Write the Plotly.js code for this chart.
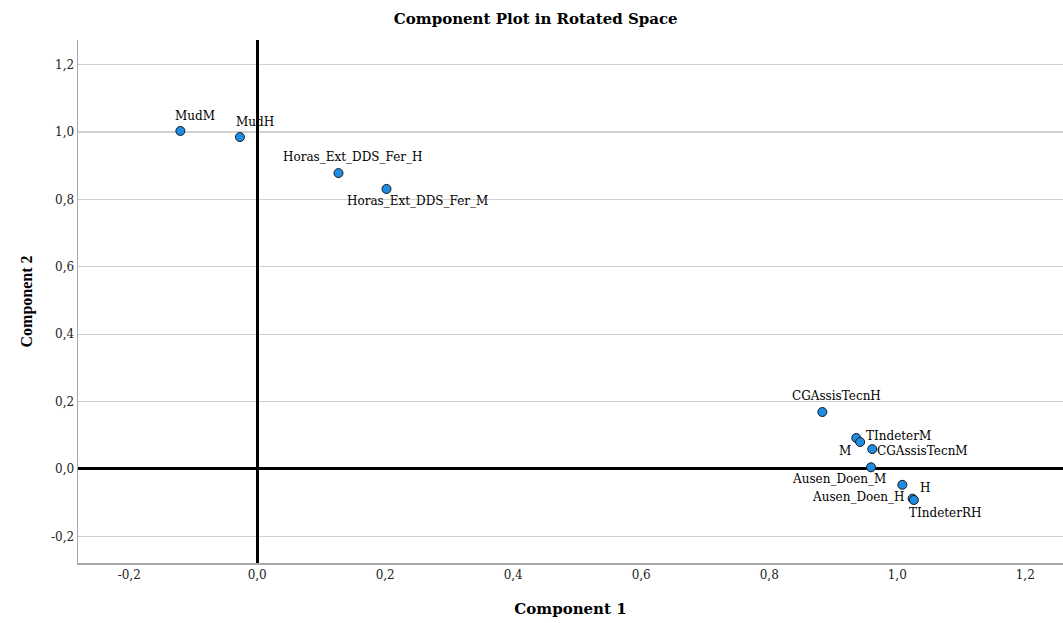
<!DOCTYPE html>
<html>
<head>
<meta charset="utf-8">
<script src="https://cdn.plot.ly/plotly-3.0.1.min.js"></script>
<style>html,body{margin:0;padding:0;background:#fff;}#chart{width:1063px;height:623px;}</style>
</head>
<body>
<div id="chart"></div>
<script>
const labels = ["MudM","MudH","Horas_Ext_DDS_Fer_H","Horas_Ext_DDS_Fer_M","CGAssisTecnH","TIndeterM","M","CGAssisTecnM","Ausen_Doen_M","H","Ausen_Doen_H","TIndeterRH"];
const component1 = [-0.120,-0.027,0.127,0.202,0.883,0.936,0.942,0.961,0.959,1.008,1.024,1.026];
const component2 = [1.003,0.985,0.878,0.831,0.169,0.092,0.080,0.059,0.005,-0.047,-0.088,-0.092];
const tickValues = [-0.2,0,0.2,0.4,0.6,0.8,1.0,1.2];
const tickLabels = ["-0,2","0,0","0,2","0,4","0,6","0,8","1,0","1,2"];
// label offsets from each point, in screen pixels (dx right, dy down)
const labelDx = [15,15,15,31,14,42,-15,50,-32,23,-54,31];
const labelDy = [-15,-15,-16,12,-16,-2,9,2,12,3,-2,13];

const dvSerif = "'DejaVu Serif', serif";
const libSerif = "'Liberation Serif', 'Times New Roman', serif";
const trace = {
  x: component1, y: component2, text: labels,
  mode: "markers", type: "scatter",
  marker: {size: 9, color: "#1e8ce2", line: {color: "#1a1a1a", width: 1}},
  cliponaxis: false, hoverinfo: "text"
};
const annotations = labels.map((t, i) => ({
  x: component1[i], y: component2[i], xref: "x", yref: "y", text: t,
  showarrow: false, xanchor: "center", yanchor: "middle",
  xshift: labelDx[i], yshift: -labelDy[i],
  font: {family: dvSerif, size: 12, color: "#000"}
}));
const layout = {
  width: 1063, height: 623,
  margin: {l: 78, r: 0, t: 40, b: 60},
  separators: ",.",
  paper_bgcolor: "#fff", plot_bgcolor: "#fff",
  showlegend: false,
  annotations: annotations,
  title: {text: "<b>Component Plot in Rotated Space</b>", font: {family: dvSerif, size: 15, color: "#000"}, x: 0.504, xanchor: "center", y: 0.97, yanchor: "middle"},
  xaxis: {
    range: [-0.28, 1.259], tickvals: tickValues, ticktext: tickLabels,
    showgrid: false, zeroline: true, zerolinecolor: "#000", zerolinewidth: 3,
    showline: true, linecolor: "#a8a8a8", linewidth: 1.5, ticks: "",
    tickfont: {family: dvSerif, size: 12, color: "#222"},
    title: {text: "<b>Component 1</b>", font: {family: dvSerif, size: 15, color: "#000"}, standoff: 22}
  },
  yaxis: {
    range: [-0.279, 1.273], tickvals: tickValues, ticktext: tickLabels,
    showgrid: true, gridcolor: "#d0d0d0", gridwidth: 1.2,
    zeroline: true, zerolinecolor: "#000", zerolinewidth: 3,
    showline: true, linecolor: "#a8a8a8", linewidth: 1.5, ticks: "",
    tickfont: {family: dvSerif, size: 12, color: "#222"},
    title: {text: "<b>Component 2</b>", font: {family: libSerif, size: 16, color: "#000"}, standoff: 14}
  }
};
Plotly.newPlot("chart", [trace], layout, {displayModeBar: false, staticPlot: true});
</script>
</body>
</html>
